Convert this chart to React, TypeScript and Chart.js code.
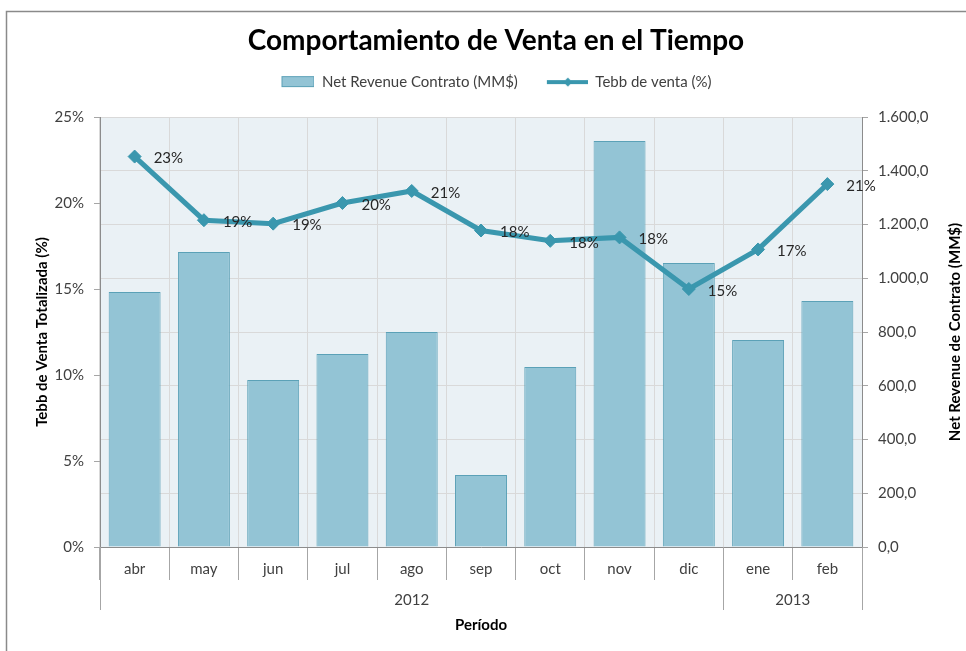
import { useEffect, useRef } from 'react';
import { Chart, registerables } from 'chart.js';

Chart.register(...registerables);

// ---- data ----
const months = ['abr', 'may', 'jun', 'jul', 'ago', 'sep', 'oct', 'nov', 'dic', 'ene', 'feb'];
const years = ['2012', '2013'];
const monthsPerYear = [9, 2];
const netRevenue = [949, 1098, 621, 718, 800, 268, 670, 1511, 1057, 770, 915];
const tebbVenta = [22.7, 19.0, 18.8, 20.0, 20.7, 18.4, 17.8, 18.0, 15.0, 17.3, 21.1];
const seriesNames = ['Net Revenue Contrato (MM$)', 'Tebb de venta (%)'];
const chartTitle = 'Comportamiento de Venta en el Tiempo';
const leftAxisTitle = 'Tebb de Venta Totalizada (%)';
const rightAxisTitle = 'Net Revenue de Contrato (MM$)';
const xAxisTitle = 'Período';

// ---- styles ----
const FONT = 'Lato, "Open Sans", "DejaVu Sans", sans-serif';
const FS = 15;
const BAR_FILL = '#93C4D5';
const BAR_BORDER = '#5BA1B7';
const LINE_COLOR = '#3A97AE';
const PLOT_BG = '#EAF1F5';
const GRID = '#D9D9D9';
const TICK = '#A6A6A6';
const AXIS = '#8C8C8C';
const TEXT = '#404040';

function fmtRevenue(v: number): string {
  const [intPart, dec] = v.toFixed(1).split('.');
  const withSep = intPart.replace(/\B(?=(\d{3})+(?!\d))/g, '.');
  return withSep + ',' + dec;
}

function makeBarIcon(): HTMLCanvasElement {
  const c = document.createElement('canvas');
  c.width = 60;
  c.height = 14;
  const g = c.getContext('2d')!;
  g.fillStyle = BAR_FILL;
  g.fillRect(27.5, 1.5, 32, 10);
  g.strokeStyle = BAR_BORDER;
  g.lineWidth = 1;
  g.strokeRect(27.5, 1.5, 32, 10);
  return c;
}

function makeLineIcon(): HTMLCanvasElement {
  const c = document.createElement('canvas');
  c.width = 60;
  c.height = 14;
  const g = c.getContext('2d')!;
  g.strokeStyle = LINE_COLOR;
  g.lineWidth = 4;
  g.beginPath();
  g.moveTo(19, 7);
  g.lineTo(60, 7);
  g.stroke();
  g.fillStyle = LINE_COLOR;
  g.beginPath();
  g.moveTo(40, 2.5);
  g.lineTo(44.5, 7);
  g.lineTo(40, 11.5);
  g.lineTo(35.5, 7);
  g.closePath();
  g.fill();
  return c;
}

const backgroundPlugin = {
  id: 'bgFrame',
  beforeDraw(chart: any) {
    const { ctx, chartArea, width, height } = chart;
    ctx.save();
    ctx.fillStyle = '#FFFFFF';
    ctx.fillRect(0, 0, width, height);
    ctx.fillStyle = PLOT_BG;
    ctx.fillRect(chartArea.left, chartArea.top, chartArea.right - chartArea.left, chartArea.bottom - chartArea.top);
    ctx.strokeStyle = '#8A8A8A';
    ctx.lineWidth = 1.5;
    ctx.beginPath();
    ctx.moveTo(6.5, height);
    ctx.lineTo(6.5, 11.5);
    ctx.lineTo(width, 11.5);
    ctx.stroke();
    ctx.restore();
  },
};

const annotatePlugin = {
  id: 'annotate',
  afterDatasetsDraw(chart: any) {
    const { ctx } = chart;
    const meta = chart.getDatasetMeta(1);
    ctx.save();
    ctx.font = `${FS}px ${FONT}`;
    ctx.fillStyle = '#262626';
    ctx.textAlign = 'left';
    ctx.textBaseline = 'middle';
    meta.data.forEach((pt: any, i: number) => {
      ctx.fillText(Math.round(tebbVenta[i]) + '%', pt.x + 19, pt.y + 2);
    });
    ctx.restore();
  },
  afterDraw(chart: any) {
    const { ctx, chartArea } = chart;
    const xs = chart.scales.x;
    const half = (xs.getPixelForValue(1) - xs.getPixelForValue(0)) / 2;
    const bottom = chartArea.bottom;
    ctx.save();
    // chart title (the frame in the source is wider than the view, so its centre sits right of ours)
    ctx.font = `bold 28px ${FONT}`;
    ctx.fillStyle = '#000000';
    ctx.textAlign = 'center';
    ctx.textBaseline = 'middle';
    ctx.fillText(chartTitle, chart.width / 2 + 13, 41);
    // year group separators and labels
    ctx.strokeStyle = TICK;
    ctx.lineWidth = 1;
    let start = 0;
    const bounds = [0];
    monthsPerYear.forEach((n) => {
      start += n;
      bounds.push(start);
    });
    bounds.forEach((b) => {
      const px = Math.round(xs.getPixelForValue(b) - half) + 0.5;
      ctx.beginPath();
      ctx.moveTo(px, bottom);
      ctx.lineTo(px, bottom + 63);
      ctx.stroke();
    });
    ctx.font = `${FS}px ${FONT}`;
    ctx.fillStyle = TEXT;
    years.forEach((y, i) => {
      const a = xs.getPixelForValue(bounds[i]) - half;
      const b = xs.getPixelForValue(bounds[i + 1]) - half;
      ctx.fillText(y, (a + b) / 2, bottom + 53);
    });
    // right axis title (reads bottom to top)
    ctx.font = `bold ${FS}px ${FONT}`;
    ctx.fillStyle = '#000000';
    ctx.translate(955, (chartArea.top + chartArea.bottom) / 2);
    ctx.rotate(-Math.PI / 2);
    ctx.fillText(rightAxisTitle, 0, 0);
    ctx.restore();
  },
};

export default function App() {
  const ref = useRef<HTMLCanvasElement | null>(null);

  useEffect(() => {
    if (!ref.current) return;
    const barIcon = makeBarIcon();
    const lineIcon = makeLineIcon();
    const chart = new Chart(ref.current, {
      data: {
        labels: months,
        datasets: [
          {
            type: 'bar',
            label: seriesNames[0],
            data: netRevenue,
            yAxisID: 'yRev',
            backgroundColor: BAR_FILL,
            borderColor: BAR_BORDER,
            borderWidth: 1,
            barPercentage: 0.75,
            categoryPercentage: 1,
            order: 2,
          },
          {
            type: 'line',
            label: seriesNames[1],
            data: tebbVenta,
            yAxisID: 'yPct',
            borderColor: LINE_COLOR,
            backgroundColor: LINE_COLOR,
            borderWidth: 5,
            pointStyle: 'rectRot',
            pointRadius: 6.5,
            pointBorderWidth: 1,
            pointBackgroundColor: LINE_COLOR,
            pointBorderColor: LINE_COLOR,
            tension: 0,
            order: 1,
          },
        ],
      } as any,
      options: {
        animation: false,
        responsive: false,
        maintainAspectRatio: false,
        layout: { padding: 0 },
        plugins: {
          tooltip: { enabled: false },
          title: {
            display: true,
            text: chartTitle,
            color: 'rgba(0,0,0,0)',
            font: { family: FONT, size: 28, weight: 'bold' },
            padding: { top: 24, bottom: 7 },
          },
          legend: {
            display: true,
            position: 'top',
            labels: {
              usePointStyle: true,
              pointStyleWidth: 60,
              boxHeight: FS,
              padding: 10,
              color: TEXT,
              font: { family: FONT, size: FS },
              generateLabels: () => [
                { text: seriesNames[0], pointStyle: barIcon, fillStyle: BAR_FILL, strokeStyle: BAR_BORDER, lineWidth: 0, hidden: false, datasetIndex: 0, fontColor: TEXT },
                { text: seriesNames[1], pointStyle: lineIcon, fillStyle: LINE_COLOR, strokeStyle: LINE_COLOR, lineWidth: 0, hidden: false, datasetIndex: 1, fontColor: TEXT },
              ] as any,
            },
          },
          subtitle: {
            display: true,
            text: '',
            weight: 500,
            font: { size: 10, lineHeight: 1.74 },
            padding: 0,
          } as any,
        },
        scales: {
          x: {
            type: 'category',
            offset: true,
            grid: {
              offset: true,
              color: GRID,
              tickColor: TICK,
              tickLength: 33,
              drawOnChartArea: true,
            },
            border: { color: AXIS },
            ticks: {
              color: TEXT,
              font: { family: FONT, size: FS },
              padding: -20,
              maxRotation: 0,
              autoSkip: false,
            },
            title: {
              display: true,
              text: xAxisTitle,
              color: '#000000',
              font: { family: FONT, size: FS, weight: 'bold' },
              padding: { top: 4, bottom: 17 },
            },
            afterFit: (s: any) => {
              s.height = 104;
            },
          },
          yPct: {
            type: 'linear',
            position: 'left',
            min: 0,
            max: 25,
            ticks: {
              stepSize: 5,
              color: TEXT,
              font: { family: FONT, size: FS },
              padding: 10,
              callback: (v: any) => v + '%',
            },
            grid: { drawOnChartArea: false, tickLength: 6, tickColor: TICK },
            border: { color: AXIS },
            title: {
              display: true,
              text: leftAxisTitle,
              color: '#000000',
              font: { family: FONT, size: FS, weight: 'bold' },
              padding: { top: 33, bottom: 0 },
            },
            afterFit: (s: any) => {
              s.width = 100;
            },
          },
          yRev: {
            type: 'linear',
            position: 'right',
            min: 0,
            max: 1600,
            ticks: {
              stepSize: 200,
              color: TEXT,
              font: { family: FONT, size: FS },
              padding: 10,
              callback: (v: any) => fmtRevenue(Number(v)),
            },
            grid: { drawOnChartArea: true, color: GRID, tickLength: 6, tickColor: TICK },
            border: { color: AXIS },
            afterFit: (s: any) => {
              s.width = 104;
            },
          },
        },
      } as any,
      plugins: [backgroundPlugin, annotatePlugin],
    });
    return () => chart.destroy();
  }, []);

  return (
    <div style={{ position: 'absolute', left: 0, top: 0, width: 966, height: 651 }}>
      <canvas ref={ref} width={966} height={651} style={{ width: 966, height: 651, display: 'block' }} />
    </div>
  );
}
